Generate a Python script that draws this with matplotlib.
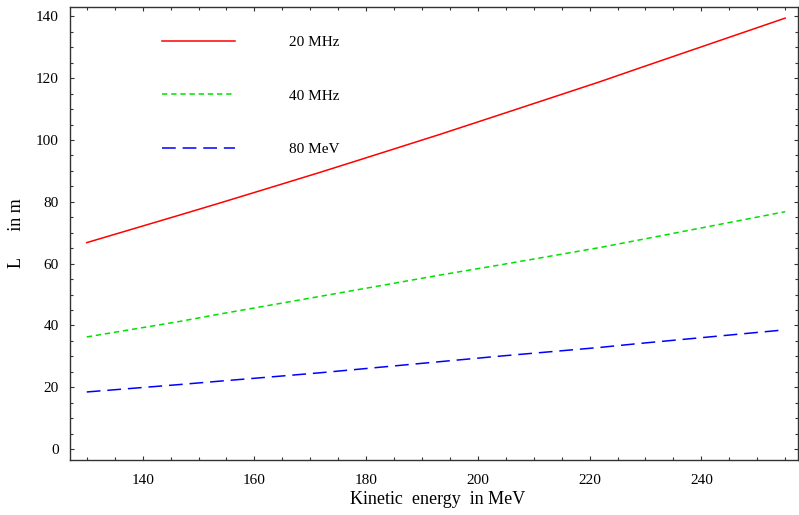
import matplotlib
matplotlib.use("Agg")
import matplotlib.pyplot as plt
from matplotlib.ticker import MultipleLocator

plt.rcParams['font.family'] = ['Liberation Serif', 'DejaVu Serif']

energy = [130, 146.6, 153.8, 164.5, 171.7, 178.9, 193.2, 204.0, 221.8, 229.0, 255]
L_20MHz = [66.8, 75.7, 79.6, 85.5, 89.5, 93.6, 101.8, 108.2, 118.8, 123.3, 139.4]
L_40MHz = [36.3, 41.3, 43.7, 47.1, 49.4, 51.7, 56.3, 59.6, 65.2, 67.7, 76.8]
L_80MeV = [18.5, 20.9, 22.0, 23.6, 24.7, 25.9, 28.3, 30.1, 32.9, 34.2, 38.6]
labels = ["20 MHz", "40 MHz", "80 MeV"]

W, H = 799, 515
fig = plt.figure(figsize=(W / 100, H / 100), dpi=100)
ax = fig.add_axes([70 / W, (H - 460) / H, (798 - 70) / W, (460 - 7) / H])

ax.plot(energy, L_20MHz, color='#ff0000', lw=1.1, ls='-', label=labels[0])
ax.plot(energy, L_40MHz, color='#00e000', lw=1.1, ls=(0, (3.5, 2.5)), label=labels[1])
ax.plot(energy, L_80MeV, color='#0000ff', lw=1.1, ls=(0, (9, 4.5)), label=labels[2])

ax.set_xlim(127, 257.3)
ax.set_ylim(-3.5, 143)

ax.xaxis.set_major_locator(MultipleLocator(20))
ax.xaxis.set_minor_locator(MultipleLocator(5))
ax.yaxis.set_major_locator(MultipleLocator(20))
ax.yaxis.set_minor_locator(MultipleLocator(5))
ax.tick_params(which='both', direction='in', top=True, right=True,
               colors='#333333', labelcolor='black', labelsize=11, width=0.8)
ax.tick_params(which='major', length=3.2)
ax.tick_params(which='minor', length=2)
ax.tick_params(axis='x', which='major', pad=10)
ax.tick_params(axis='y', which='major', pad=8)
for s in ax.spines.values():
    s.set_color('#333333')
    s.set_linewidth(1.0)

ax.set_xlabel("Kinetic  energy  in MeV", fontsize=13)
ax.xaxis.set_label_coords(0.505, -0.068)
ax.set_ylabel("L      in m", fontsize=13)
ax.yaxis.set_label_coords(-0.062, 0.5)

leg = ax.legend(loc='upper left', bbox_to_anchor=(0.118, 0.951), frameon=False,
                fontsize=11, handlelength=4.75, handletextpad=3.55,
                labelspacing=2.62, borderaxespad=0)

fig.savefig("out.png", dpi=100)
